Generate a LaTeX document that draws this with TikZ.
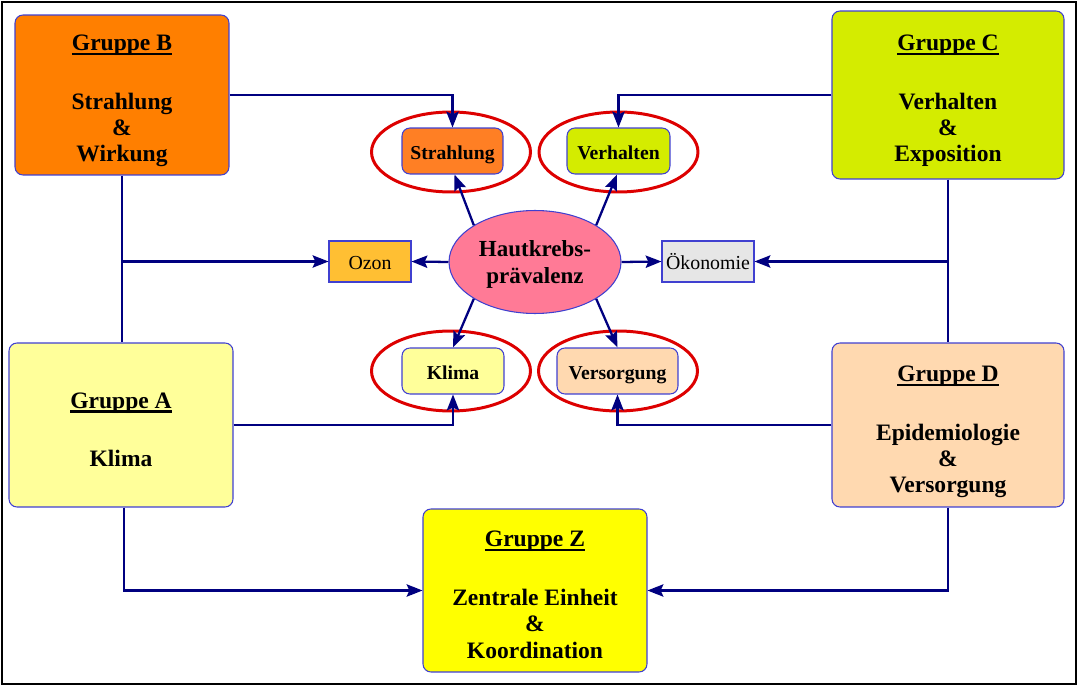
\documentclass[tikz,border=0pt]{standalone}
\usepackage{fontspec}
\setmainfont{Liberation Serif}
\usetikzlibrary{arrows.meta,shapes.geometric}
\definecolor{cB}{HTML}{FF7F00}
\definecolor{cBs}{HTML}{FF7F24}
\definecolor{cC}{HTML}{D4EC00}
\definecolor{cA}{HTML}{FFFF9A}
\definecolor{cD}{HTML}{FFD9B0}
\definecolor{cZ}{HTML}{FFFF00}
\definecolor{cOz}{HTML}{FFBF33}
\definecolor{cOk}{HTML}{E6E6E6}
\definecolor{cHK}{HTML}{FF7A96}
\definecolor{ringred}{HTML}{DD0000}
\definecolor{navy}{HTML}{000080}
\definecolor{bordblue}{HTML}{4040D0}
\newcommand{\grpul}[1]{\setbox0\hbox{#1}\leavevmode\rlap{\rule[-2.6pt]{\wd0}{1.2pt}}\box0}
\newcommand{\tstr}[1]{\rule{0pt}{#1}}
\tikzset{
  grp/.style={draw=bordblue, line width=0.6pt, rounded corners=4.5pt, align=center,
    font=\fontsize{13.4}{15}\selectfont\bfseries, inner sep=0pt},
  topic/.style={draw=bordblue, line width=0.6pt, rounded corners=4.5pt,
    font=\fontsize{11.2}{13}\selectfont\bfseries, inner sep=0pt, minimum height=0.92cm,
    text height=9.7pt, text depth=0pt},
  plain/.style={draw=bordblue, line width=0.6pt, font=\fontsize{11.3}{13}\selectfont,
    inner sep=0pt, minimum height=0.82cm, text height=9.4pt, text depth=0pt},
  ring/.style={draw=ringred, line width=1.7pt, ellipse, inner sep=0pt,
    minimum width=3.18cm, minimum height=1.6cm},
  conn/.style={draw=navy, line width=1.3pt},
  arr/.style={conn, -{Stealth[length=9pt,width=7pt,inset=1.5pt]}}
}
\begin{document}
\begin{tikzpicture}[x=0.02cm,y=-0.02cm]
\useasboundingbox (0,0) rectangle (1080,686);
\draw[black, line width=1pt] (2,2) rectangle (1076,684);

% group boxes
\node[grp, fill=cB, minimum width=4.28cm, minimum height=3.2cm] (gB) at (122,95)
  {\tstr{15.4pt}\grpul{Gruppe B}\\[18.5pt]Strahlung\\\&\\Wirkung};
\node[grp, fill=cC, minimum width=4.64cm, minimum height=3.36cm] (gC) at (948,95)
  {\tstr{15.4pt}\grpul{Gruppe C}\\[18.5pt]Verhalten\\\&\\Exposition};
\node[grp, fill=cA, minimum width=4.48cm, minimum height=3.28cm] (gA) at (121,425)
  {\tstr{14.3pt}\grpul{Gruppe A}\\[18.5pt]Klima};
\node[grp, fill=cD, minimum width=4.64cm, minimum height=3.28cm] (gD) at (948,425)
  {\tstr{16.6pt}\grpul{Gruppe D}\\[18.5pt]Epidemiologie\\\&\\Versorgung};
\node[grp, fill=cZ, minimum width=4.48cm, minimum height=3.26cm] (gZ) at (535,590.5)
  {\tstr{13.7pt}\grpul{Gruppe Z}\\[18.5pt]Zentrale Einheit\\\&\\Koordination};

% centre
\node[ellipse, draw=bordblue, line width=0.6pt, fill=cHK, inner sep=0pt,
  minimum width=3.44cm, minimum height=2.06cm, align=center, text depth=0pt,
  font=\fontsize{13.1}{15.9}\selectfont\bfseries] (hk) at (535,262)
  {Hautkrebs-\\prävalenz};

% rings
\node[ring] (rStr) at (451,152) {};
\node[ring] (rVer) at (618.5,152) {};
\node[ring] (rKli) at (451,371) {};
\node[ring] (rVers) at (618,371) {};

% topic boxes
\node[topic, fill=cBs, minimum width=2.02cm] (sStr) at (452.5,151) {Strahlung};
\node[topic, fill=cC, minimum width=2.06cm] (sVer) at (618.5,151) {Verhalten};
\node[topic, fill=cA, minimum width=2.04cm] (sKli) at (453,371) {Klima};
\node[topic, fill=cD, minimum width=2.42cm] (sVers) at (617.5,371) {Versorgung};
\node[plain, fill=cOz, minimum width=1.64cm] (oz) at (370,261.5) {Ozon};
\node[plain, fill=cOk, minimum width=1.84cm] (ok) at (708,261.5) {Ökonomie};

% connectors from groups
\draw[arr] (gB.east) -| (sStr.north);
\draw[arr] (gC.west) -| (sVer.north);
\draw[arr] (gA.east) -| (sKli.south);
\draw[arr] (gD.west) -| (sVers.south);
\draw[conn] (gB.south) -- (gB.south |- gA.north);
\draw[arr] (gB.south |- oz.west) -- (oz.west);
\draw[conn] (gC.south) -- (gC.south |- gD.north);
\draw[arr] (gC.south |- ok.east) -- (ok.east);
\draw[arr] ([xshift=3*0.02cm]gA.south) |- (gZ.west);
\draw[arr] (gD.south) |- (gZ.east);

% connectors from centre
\draw[arr] (hk.west) -- (oz.east);
\draw[arr] (hk.east) -- (ok.west);
\draw[arr] (hk.149) -- ([xshift=0.04cm]sStr.south);
\draw[arr] (hk.31) -- ([xshift=-0.03cm]sVer.south);
\draw[arr] (hk.211) -- (sKli.north);
\draw[arr] (hk.329) -- (sVers.north);
\end{tikzpicture}
\end{document}
